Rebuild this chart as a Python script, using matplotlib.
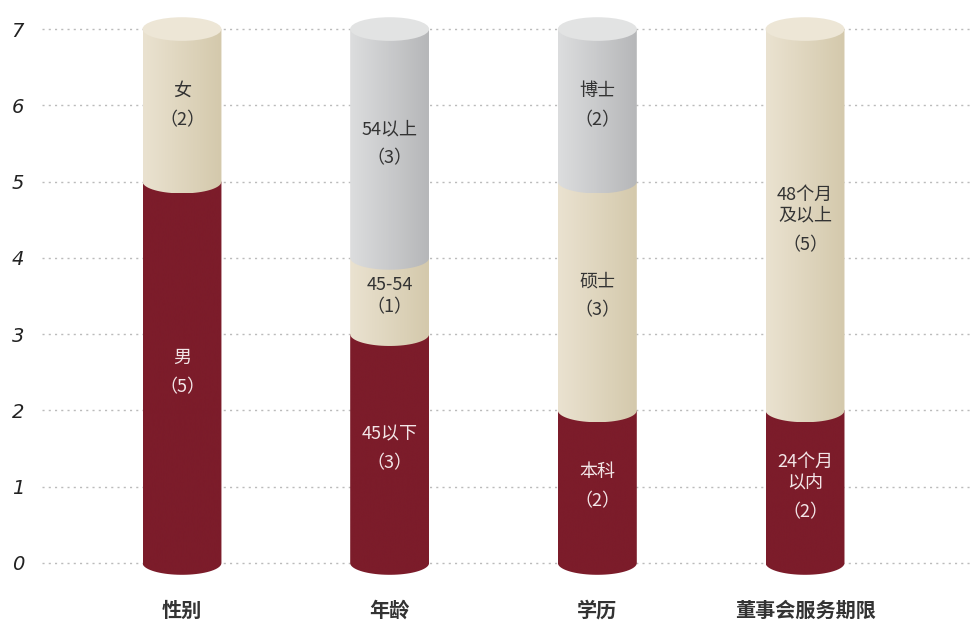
import numpy as np
import matplotlib.pyplot as plt
from matplotlib.path import Path
from matplotlib.patches import PathPatch, Ellipse
from matplotlib.colors import LinearSegmentedColormap

plt.rcParams['font.family'] = ['Noto Sans CJK SC', 'DejaVu Sans']

categories = ['性别', '年龄', '学历', '董事会服务期限']
seg_names = [
    ['男', '女'],
    ['45以下', '45-54', '54以上'],
    ['本科', '硕士', '博士'],
    ['24个月\n以内', '48个月\n及以上'],
]
seg_values = [
    [5, 2],
    [3, 1, 3],
    [2, 3, 2],
    [2, 5],
]
# colour level of each segment: 0 red, 1 beige, 2 grey
seg_kinds = [
    [0, 1],
    [0, 1, 2],
    [0, 1, 2],
    [0, 1],
]

body = {
    0: ('#7C1C2A', '#7C1C2A'),
    1: ('#EAE2D0', '#D4C9AC'),
    2: ('#DCDDDE', '#B6B7B9'),
}
tops = {0: '#8E2A38', 1: '#EDE6D6', 2: '#E2E3E3'}
text_col = {0: '#F3E6E8', 1: '#333333', 2: '#333333'}

W = 0.38      # bar width in data units
RY = 0.155    # half height of the ellipses

fig = plt.figure(figsize=(9.72, 6.2), dpi=100)
ax = fig.add_axes([42 / 972, 0.0489, 930 / 972, 0.935])
ax.set_xlim(-0.674, 3.804)
ax.set_ylim(-0.35, 7.25)

for v in range(8):
    ax.axhline(v, color='#BBBBBB', lw=1, linestyle=(0, (1.5, 3)), zorder=0)


def segment_path(x, b, t):
    th = np.linspace(0, np.pi, 40)
    ex = x + W / 2 * np.cos(th)
    ey = b - RY * np.sin(th)
    verts = [(x - W / 2, t), (x + W / 2, t)] + list(zip(ex, ey)) + [(x - W / 2, t)]
    codes = [Path.MOVETO] + [Path.LINETO] * (len(verts) - 2) + [Path.CLOSEPOLY]
    return Path(verts, codes)


grad = np.linspace(0, 1, 64).reshape(1, -1)

for i, cat in enumerate(categories):
    bottom = 0
    for name, val, kind in zip(seg_names[i], seg_values[i], seg_kinds[i]):
        top = bottom + val
        patch = PathPatch(segment_path(i, bottom, top), facecolor='none',
                          edgecolor='none', zorder=2)
        ax.add_patch(patch)
        cmap = LinearSegmentedColormap.from_list('g', body[kind])
        im = ax.imshow(grad, cmap=cmap, extent=[i - W / 2, i + W / 2, bottom - RY, top],
                       aspect='auto', zorder=2, interpolation='bicubic')
        im.set_clip_path(patch)

        yc = (bottom + top) / 2
        nlines = name.count('\n') + 1
        gap = 22 if val == 1 else 29
        total = (nlines - 1) * 23 + gap
        name_off = total / 2 - (nlines - 1) * 11.5
        ax.annotate(name, (i, yc), xytext=(0, name_off * 0.72), textcoords='offset points',
                    ha='center', va='center', fontsize=13, color=text_col[kind],
                    linespacing=1.2, zorder=4)
        ax.annotate('（%d）' % val, (i, yc), xytext=(0, -total / 2 * 0.72),
                    textcoords='offset points', ha='center', va='center',
                    fontsize=13, color=text_col[kind], zorder=4)
        bottom = top
    last_kind = seg_kinds[i][-1]
    ax.add_patch(Ellipse((i, bottom), W, 2 * RY, facecolor=tops[last_kind],
                         edgecolor='none', zorder=3))
    ax.text(i, -0.62, cat, ha='center', va='center', fontsize=14.5,
            fontweight='bold', color='#333333')

ax.set_yticks(range(8))
ax.set_yticklabels([str(v) for v in range(8)], fontstyle='italic',
                   fontfamily='DejaVu Sans', fontsize=14, color='#222222')
ax.tick_params(axis='y', length=0, pad=13)
ax.set_xticks([])
for s in ax.spines.values():
    s.set_visible(False)

fig.savefig('out.png', dpi=100)
